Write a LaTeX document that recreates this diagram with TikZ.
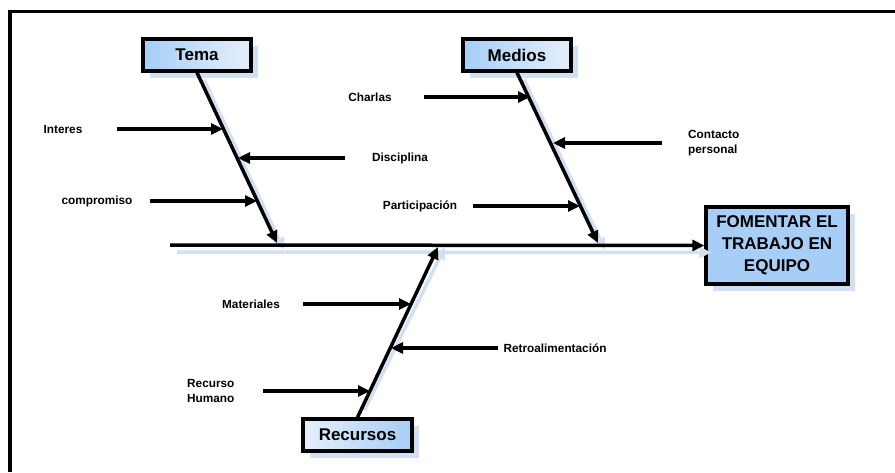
\documentclass[tikz,border=0pt]{standalone}
\usepackage{fontspec}
\setmainfont{Liberation Sans}
\usetikzlibrary{arrows.meta,shadows}
\definecolor{boxblue}{HTML}{A6CEF7}
\definecolor{paleblue}{HTML}{E6EFFA}
\definecolor{shadowblue}{HTML}{D3DFF2}

\tikzset{
  causebox/.style={draw=black,line width=3.2pt,minimum height=32pt,inner sep=0pt,
    font=\fontsize{17}{19}\selectfont\bfseries,
    drop shadow={shadow xshift=7pt,shadow yshift=-7pt,fill=shadowblue,opacity=1}},
  bone/.style={line width=3.5pt,-{Triangle[length=12pt,width=11pt]}},
  twig/.style={line width=3.5pt,-{Triangle[length=12pt,width=11pt]}},
  lbl/.style={font=\fontsize{11.8}{15}\selectfont\bfseries,inner sep=0pt,align=left}
}

\begin{document}
\begin{tikzpicture}[x=1pt,y=-1pt]
  \useasboundingbox (0,0) rectangle (895,472);
  % frame
  \draw[line width=3.5pt] (10,472) -- (10,11.5) -- (895,11.5);

  % heads
  \node[causebox,minimum width=108pt,left color=boxblue,right color=paleblue] (tema) at (197,55) {Tema};
  \node[causebox,minimum width=108pt,left color=boxblue,right color=paleblue] (medios) at (517,55) {Medios};
  \node[causebox,minimum width=109pt,left color=paleblue,right color=boxblue] (recursos) at (357.5,435) {Recursos};
  \node[causebox,fill=boxblue,minimum width=142pt,minimum height=77pt,align=center,
    font=\fontsize{17}{22}\selectfont\bfseries] (goal) at (777,245.5) {FOMENTAR EL\\TRABAJO EN\\EQUIPO};

  % spine and bones
  \coordinate (spine) at (170,245);
  \coordinate (tema-tip) at (277,243);
  \coordinate (medios-tip) at (598,243);
  \coordinate (recursos-tip) at (438,247);
  \draw[bone,shadowblue] ([shift={(7,7)}]spine) -- ([shift={(7,7)}]goal.west);
  \draw[bone,shadowblue] ([shift={(7,7)}]tema.south) -- ([shift={(7,7)}]tema-tip);
  \draw[bone,shadowblue] ([shift={(7,7)}]medios.south) -- ([shift={(7,7)}]medios-tip);
  \draw[bone,shadowblue] ([shift={(7,-7)}]recursos.north) -- ([shift={(7,0)}]recursos-tip);
  \draw[bone] (spine) -- (goal.west);
  \draw[bone] (tema.south) -- (tema-tip);
  \draw[bone] (medios.south) -- (medios-tip);
  \draw[bone] (recursos.north) -- (recursos-tip);

  % causes
  \node[lbl] (interes) at (63,129) {Interes};
  \node[lbl] (disciplina) at (400,158) {Disciplina};
  \node[lbl] (compromiso) at (97,201) {compromiso};
  \node[lbl] (charlas) at (370,97) {Charlas};
  \node[lbl,anchor=west] (contacto) at (688,143) {Contacto\\personal};
  \node[lbl] (participacion) at (420,206) {Participación};
  \node[lbl] (materiales) at (251,304) {Materiales};
  \node[lbl] (retro) at (555,348) {Retroalimentación};
  \node[lbl,anchor=west] (humano) at (187,391) {Recurso\\Humano};

  \coordinate (interes-a) at (117,129);   \coordinate (interes-b) at (223,129);
  \coordinate (disciplina-a) at (345,158); \coordinate (disciplina-b) at (238,158);
  \coordinate (compromiso-a) at (150,201); \coordinate (compromiso-b) at (257,201);
  \coordinate (charlas-a) at (424,97);    \coordinate (charlas-b) at (530,97);
  \coordinate (contacto-a) at (662,143);  \coordinate (contacto-b) at (553,143);
  \coordinate (particip-a) at (473,206);  \coordinate (particip-b) at (580,206);
  \coordinate (materiales-a) at (303,304); \coordinate (materiales-b) at (411,304);
  \coordinate (retro-a) at (498,348);     \coordinate (retro-b) at (391,348);
  \coordinate (humano-a) at (263,391);    \coordinate (humano-b) at (370,391);

  \foreach \c in {interes,disciplina,compromiso,charlas,contacto,particip,materiales,retro,humano}
    \draw[twig] (\c-a) -- (\c-b);
\end{tikzpicture}
\end{document}
